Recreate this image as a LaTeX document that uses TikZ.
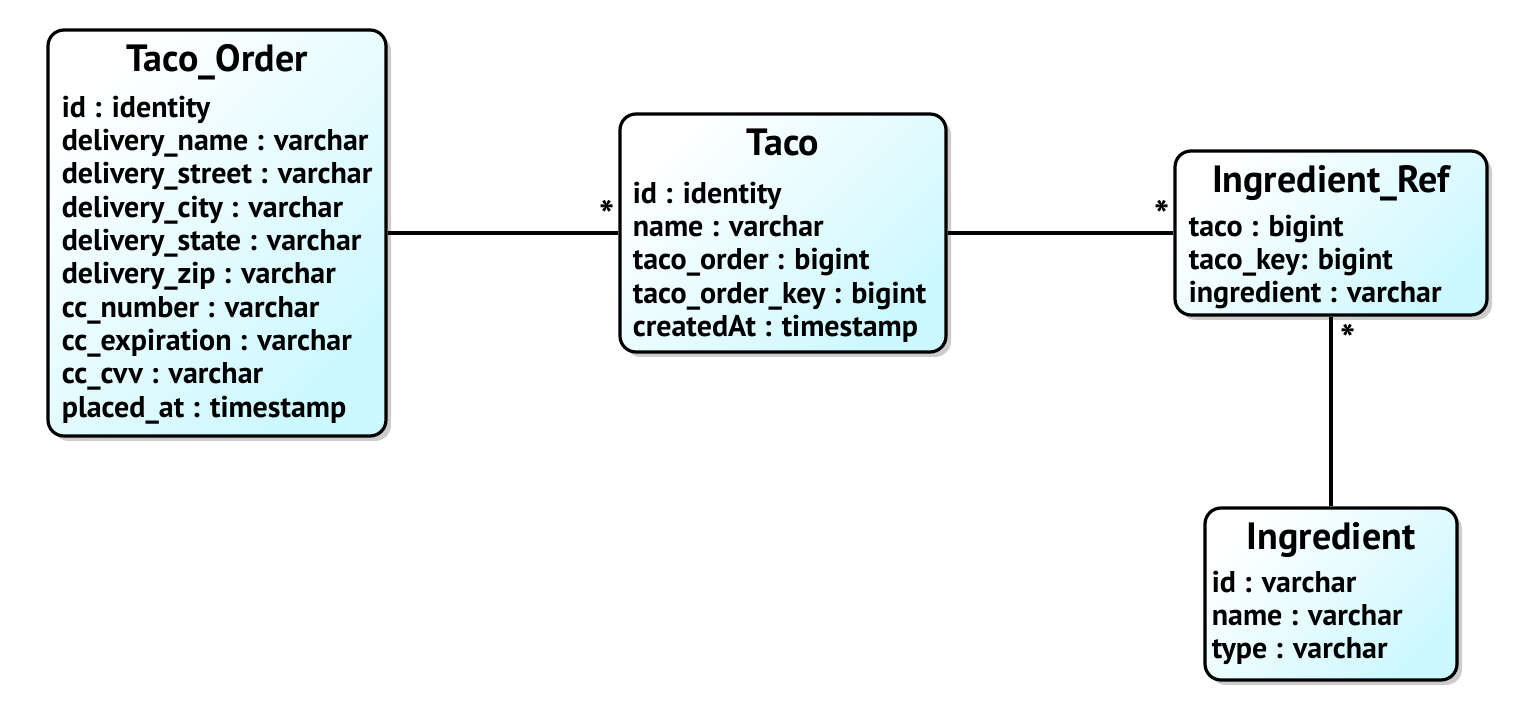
\documentclass[tikz,border=0pt]{standalone}
\usepackage{fontspec}
\setmainfont{PT Sans}
\usetikzlibrary{positioning,shadows}
\definecolor{entitycyan}{HTML}{CCF8FF}
\begin{document}
\begin{tikzpicture}[x=0.5pt, y=-0.5pt,
    entity/.style={draw, line width=1.6pt, rounded corners=8pt, top color=white, bottom color=entitycyan, shading angle=45,
      drop shadow={shadow xshift=2.5pt, shadow yshift=-2.5pt, opacity=0.4}},
    title/.style={inner sep=0pt, font=\bfseries\fontsize{19}{20}\selectfont},
    fields/.style={inner sep=0pt, align=left, font=\bfseries\fontsize{15}{16.67}\selectfont},
    link/.style={line width=1.6pt},
    mult/.style={inner sep=1pt, font=\bfseries\fontsize{20}{20}\selectfont}
  ]
  \useasboundingbox (0,0) rectangle (1524,710);

  \node[entity, minimum width=169pt, minimum height=203pt] (order) at (217,233) {};
  \node[entity, minimum width=163pt, minimum height=119pt] (taco) at (783,233) {};
  \node[entity, minimum width=156pt, minimum height=82pt] (ref) at (1331,233) {};
  \node[entity, minimum width=126pt, minimum height=86pt] (ingr) at (1331,594) {};

  \node[title, below=8pt of order.north] (ordertitle) {Taco\_Order};
  \node[title, below=8pt of taco.north] (tacotitle) {Taco};
  \node[title, below=8pt of ref.north] (reftitle) {Ingredient\_Ref};
  \node[title, below=8pt of ingr.north] (ingrtitle) {Ingredient};

  \node[fields, below right=33.5pt and 7.5pt of order.north west] (orderfields)
    {id : identity\\delivery\_name : varchar\\delivery\_street : varchar\\delivery\_city : varchar\\
     delivery\_state : varchar\\delivery\_zip : varchar\\cc\_number : varchar\\cc\_expiration : varchar\\
     cc\_cvv : varchar\\placed\_at : timestamp};
  \node[fields, below right=34.5pt and 7pt of taco.north west] (tacofields)
    {id : identity\\name : varchar\\taco\_order : bigint\\taco\_order\_key : bigint\\createdAt : timestamp};
  \node[fields, below right=32.5pt and 7.5pt of ref.north west] (reffields)
    {taco : bigint\\taco\_key: bigint\\ingredient : varchar};
  \node[fields, below right=32pt and 4pt of ingr.north west] (ingrfields)
    {id : varchar\\name : varchar\\type : varchar};

  \draw[link] (order.east) -- (taco.west) node[mult, pos=1, above left] (m1) {*};
  \draw[link] (taco.east) -- (ref.west) node[mult, pos=1, above left] (m2) {*};
  \draw[link] (ref.south) -- (ingr.north) node[mult, pos=0, below right, xshift=3pt, yshift=-2pt] (m3) {*};
\end{tikzpicture}
\end{document}
